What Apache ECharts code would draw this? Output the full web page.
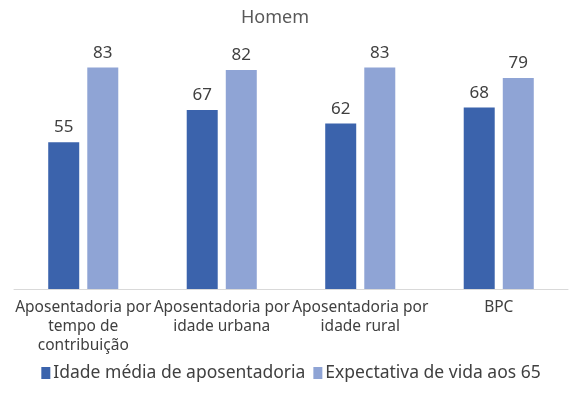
<!DOCTYPE html>
<html><head><meta charset="utf-8">
<script src="https://cdn.jsdelivr.net/npm/echarts@6/dist/echarts.min.js"></script>
<style>html,body{margin:0;padding:0;background:#fff}#c{width:582px;height:396px}</style>
</head><body><div id="c"></div>
<script>
const categories = ['Aposentadoria por\ntempo de\ncontribuição', 'Aposentadoria por\nidade urbana', 'Aposentadoria por\nidade rural', 'BPC'];
const idadeMedia = [55, 67, 62, 68];
const expectativa = [83, 82, 83, 79];
const seriesNames = ['Idade média de aposentadoria', 'Expectativa de vida aos 65'];
const FONT = 'Noto Sans';
const chart = echarts.init(document.getElementById('c'));
chart.setOption({
  animation: false,
  title: { text: 'Homem', left: 236, top: 4, textStyle: { fontFamily: FONT, fontSize: 18, fontWeight: 'normal', color: '#595959' } },
  grid: { left: 14, right: 14, top: 22, bottom: 107, containLabel: false },
  legend: {
    bottom: 9, left: 'center', itemWidth: 9, itemHeight: 12, itemGap: 8,
    textStyle: { fontFamily: FONT, fontSize: 17.5, color: '#404040', padding: [0, 0, 0, -2] },
    icon: 'rect',
    data: seriesNames
  },
  xAxis: {
    type: 'category', data: categories,
    axisLine: { lineStyle: { color: '#D9D9D9', width: 1 } },
    axisTick: { show: false },
    axisLabel: { interval: 0, fontFamily: FONT, fontSize: 15.5, color: '#404040', lineHeight: 19, margin: 9 }
  },
  yAxis: { type: 'value', min: 0, max: 100, show: false, splitLine: { show: false } },
  series: [
    { name: seriesNames[0], type: 'bar', data: idadeMedia, barWidth: 31, barGap: '26%',
      itemStyle: { color: '#3B63AC' },
      label: { show: true, position: 'top', distance: 6, fontFamily: FONT, fontSize: 17, color: '#404040' } },
    { name: seriesNames[1], type: 'bar', data: expectativa, barWidth: 31,
      itemStyle: { color: '#8FA4D5' },
      label: { show: true, position: 'top', distance: 6, fontFamily: FONT, fontSize: 17, color: '#404040' } }
  ]
});
</script></body></html>
